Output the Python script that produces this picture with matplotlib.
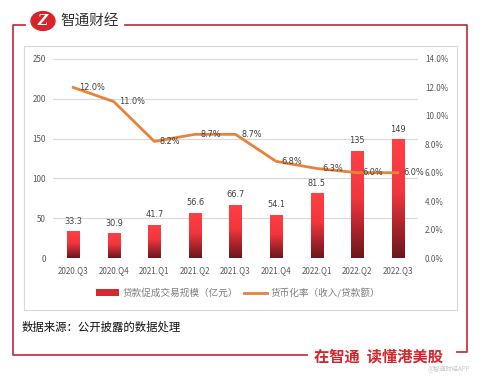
import matplotlib
matplotlib.use("Agg")
import matplotlib.pyplot as plt
import numpy as np
from matplotlib.lines import Line2D
from matplotlib.patches import Circle, Rectangle
from matplotlib.colors import LinearSegmentedColormap

plt.rcParams['font.family'] = ['Noto Sans CJK SC', 'DejaVu Sans']

categories = ["2020.Q3", "2020.Q4", "2021.Q1", "2021.Q2", "2021.Q3",
              "2021.Q4", "2022.Q1", "2022.Q2", "2022.Q3"]
loan_volume = [33.3, 30.9, 41.7, 56.6, 66.7, 54.1, 81.5, 135, 149]
bar_labels = ["33.3", "30.9", "41.7", "56.6", "66.7", "54.1", "81.5", "135", "149"]
monetization = [12.0, 11.0, 8.2, 8.7, 8.7, 6.8, 6.3, 6.0, 6.0]
left_ticks = [0, 50, 100, 150, 200, 250]
right_ticks = [0, 2, 4, 6, 8, 10, 12, 14]

W, H = 480, 377
fig = plt.figure(figsize=(W / 100, H / 100), dpi=100)

def fx(x):
    return x / W

def fy(y):
    return 1 - y / H

# axes
ax = fig.add_axes([fx(53), fy(258), fx(418) - fx(53), fy(59) - fy(258)])
ax2 = ax.twinx()

x = np.arange(len(categories))
bars = ax.bar(x, loan_volume, width=0.3, color="#D42A32", zorder=2,
              label="贷款促成交易规模（亿元）")

cmap = LinearSegmentedColormap.from_list(
    "barg", [(0, "#6A181C"), (0.25, "#A8232A"), (0.55, "#F2363D"), (1, "#FF4045")])
grad = np.linspace(0, 1, 256).reshape(-1, 1)
for b in bars:
    x0 = b.get_x()
    h = b.get_height()
    im = ax.imshow(grad, cmap=cmap, origin="lower", aspect="auto",
                   extent=[x0, x0 + b.get_width(), 0, h], zorder=3)
    im.set_clip_path(b)
ax.set_xlim(-0.5, len(categories) - 0.5)
ax.set_ylim(0, 250)

for xi, v, lab in zip(x, loan_volume, bar_labels):
    ax.annotate(lab, (xi, v), xytext=(0, 4), textcoords="offset points",
                ha="center", va="bottom", fontsize=5.9, color="#404040",
                family=["DejaVu Sans"], zorder=5)

ax.set_yticks(left_ticks)
ax.set_xticks(x)
ax.set_xticklabels(categories)
ax.grid(axis="y", color="#D9D9D9", lw=0.8, zorder=0)
ax.set_axisbelow(True)
ax.tick_params(axis="both", length=0, labelsize=5.8, colors="#595959")
ax.tick_params(axis="x", pad=6)
ax.tick_params(axis="y", pad=5)
for s in ax.spines.values():
    s.set_visible(False)

line, = ax2.plot(x, monetization, color="#E8823A", lw=2.0, zorder=4,
                 solid_joinstyle="round", label="货币化率（收入/贷款额）")
ax2.set_ylim(0, 14)
ax2.set_yticks(right_ticks)
ax2.set_yticklabels([f"{t:.1f}%" for t in right_ticks])
ax2.tick_params(axis="y", length=0, labelsize=5.8, colors="#595959", pad=5)
for s in ax2.spines.values():
    s.set_visible(False)
for xi, v in zip(x, monetization):
    ax2.annotate(f"{v:.1f}%", (xi, v), xytext=(4, 0), textcoords="offset points",
                 ha="left", va="center", fontsize=5.9, color="#404040",
                 family=["DejaVu Sans"], zorder=6)

# legend
leg = fig.legend(handles=[bars, line], labels=["贷款促成交易规模（亿元）", "货币化率（收入/贷款额）"],
                 loc="center", bbox_to_anchor=(fx(238), fy(293)), ncol=2, frameon=False,
                 fontsize=6.9, handlelength=2.4, handleheight=0.7, columnspacing=0.6,
                 handletextpad=0.4)
for t in leg.get_texts():
    t.set_color("#7F7F7F")

# chart box
fig.add_artist(Rectangle((fx(24), fy(310)), fx(457) - fx(24), fy(46) - fy(310),
                         transform=fig.transFigure, fill=False, ec="#D9D9D9", lw=0.8))

# outer frame
fc = "#C23A44"
fig.add_artist(Line2D([fx(25), fx(13), fx(13), fx(307)],
                      [fy(25), fy(25), fy(355), fy(355)], transform=fig.transFigure,
                      color=fc, lw=1.3, solid_joinstyle="round"))
fig.add_artist(Line2D([fx(125), fx(467), fx(467), fx(457)],
                      [fy(25), fy(25), fy(352), fy(352)], transform=fig.transFigure,
                      color=fc, lw=1.3, solid_joinstyle="round"))

# logo
fig.add_artist(Circle((fx(43), fy(21)), 12 / W, transform=fig.transFigure,
                      color="#D8232A", zorder=5))
fig.text(fx(43), fy(21), "Z", color="white", fontsize=10, fontweight="bold",
         style="italic", ha="center", va="center", family=["DejaVu Serif"], zorder=6)
fig.text(fx(60), fy(22), "智通财经", fontsize=10.5, color="#333333",
         ha="left", va="center")

# source
fig.text(fx(22), fy(327), "数据来源：公开披露的数据处理", fontsize=8.2, color="#111111",
         ha="left", va="center")

# slogan
fig.text(fx(314), fy(356), "在智通  读懂港美股", fontsize=11, fontweight="bold",
         color="#D6262C", ha="left", va="center")
fig.text(fx(470), fy(369), "@智通财经APP", fontsize=4.5, color="#C8C8C8",
         ha="right", va="center")

fig.savefig("out.png", dpi=100)
